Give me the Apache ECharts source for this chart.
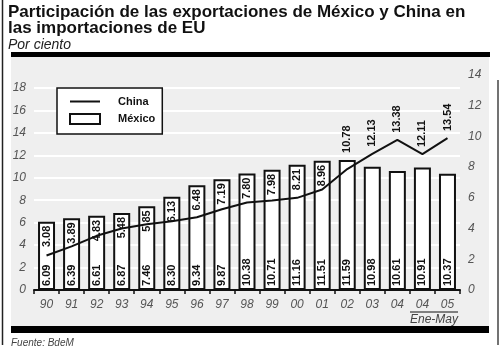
<!DOCTYPE html>
<html>
<head>
<meta charset="utf-8">
<script src="https://cdn.jsdelivr.net/npm/echarts@6/dist/echarts.min.js"></script>
<style>
  html, body { margin: 0; padding: 0; background: #fff; }
  #chart { width: 500px; height: 350px; }
</style>
</head>
<body>
<div id="chart"></div>
<script>
// Years on the category axis (last two are January-May figures)
const years = ['90', '91', '92', '93', '94', '95', '96', '97', '98', '99', '00', '01', '02', '03', '04', '04', '05'];
// Share of US imports, per cent
const mexico = [6.09, 6.39, 6.61, 6.87, 7.46, 8.30, 9.34, 9.87, 10.38, 10.71, 11.16, 11.51, 11.59, 10.98, 10.61, 10.91, 10.37];
const china = [3.08, 3.89, 4.83, 5.48, 5.85, 6.13, 6.48, 7.19, 7.80, 7.98, 8.21, 8.96, 10.78, 12.13, 13.38, 12.11, 13.54];
// Tick values of the two vertical scales
const leftTicks = { min: 0, max: 18, step: 2 };
const rightTicks = { min: 0, max: 14, step: 2 };

const FONT = '"Liberation Sans", Arial, Helvetica, sans-serif';
const chart = echarts.init(document.getElementById('chart'), null, { renderer: 'canvas' });

const axisLabelStyle = { fontFamily: FONT, fontStyle: 'italic', fontSize: 12, color: '#555' };

chart.setOption({
  animation: false,
  backgroundColor: '#fff',
  title: {
    text: 'Participación de las exportaciones de México y China en\nlas importaciones de EU',
    subtext: 'Por ciento',
    left: 8, top: 4, padding: 0, itemGap: 1,
    textStyle: { fontFamily: FONT, fontWeight: 'bold', fontSize: 17, lineHeight: 16, color: '#111' },
    subtextStyle: { fontFamily: FONT, fontStyle: 'italic', fontSize: 14, lineHeight: 14, color: '#222' }
  },
  legend: {
    data: [
      // plain line sample, no marker dot
      { name: 'China', itemStyle: { opacity: 0 } },
      { name: 'México', icon: 'rect', itemStyle: { color: '#fff', borderColor: '#111', borderWidth: 2 } }
    ],
    orient: 'vertical',
    left: 57, top: 88,
    padding: [8, 7, 9, 12],
    itemWidth: 30, itemHeight: 10, itemGap: 6,
    backgroundColor: '#fff',
    borderColor: '#111', borderWidth: 1.5,
    textStyle: { fontFamily: FONT, fontWeight: 'bold', fontSize: 11, color: '#111', padding: [0, 0, 0, 13] }
  },
  grid: [
    { left: 34, right: 40, top: 88, bottom: 60 },
    { left: 34, right: 40, top: 75, bottom: 60 }
  ],
  xAxis: [
    {
      type: 'category', data: years, gridIndex: 0,
      axisLine: { lineStyle: { color: '#111', width: 2 } },
      axisTick: { show: true, length: 4, lineStyle: { color: '#111', width: 1.5 } },
      axisLabel: Object.assign({ margin: 9 }, axisLabelStyle)
    },
    { type: 'category', data: years, gridIndex: 1, show: false }
  ],
  yAxis: [
    {
      type: 'value', gridIndex: 0,
      min: leftTicks.min, max: leftTicks.max, interval: leftTicks.step,
      axisLine: { show: false }, axisTick: { show: false },
      axisLabel: Object.assign({ margin: 8 }, axisLabelStyle),
      splitLine: { show: true, lineStyle: { color: '#ffffff', width: 2 } }
    },
    {
      type: 'value', gridIndex: 1, position: 'right',
      min: rightTicks.min, max: rightTicks.max, interval: rightTicks.step,
      axisLine: { show: false }, axisTick: { show: false },
      axisLabel: Object.assign({ margin: 8 }, axisLabelStyle),
      splitLine: { show: false }
    }
  ],
  graphic: [
    // left frame rule
    { type: 'line', z: -20, shape: { x1: 2.5, y1: 0, x2: 2.5, y2: 345 }, style: { stroke: '#222', lineWidth: 1.5 } },
    // right frame rule
    { type: 'line', z: -20, shape: { x1: 498, y1: 80, x2: 498, y2: 345 }, style: { stroke: '#444', lineWidth: 1.5 } },
    // panel
    { type: 'rect', z: -20, shape: { x: 11, y: 56, width: 478, height: 271 }, style: { fill: '#efefef' } },
    // top and bottom bands
    { type: 'rect', z: -10, shape: { x: 11, y: 52, width: 479, height: 5 }, style: { fill: '#000' } },
    { type: 'rect', z: -10, shape: { x: 11, y: 326, width: 478, height: 7 }, style: { fill: '#000' } },
    // January-May bracket under the last two years
    { type: 'line', shape: { x1: 410, y1: 312, x2: 458, y2: 312 }, style: { stroke: '#111', lineWidth: 1 } },
    { type: 'text', x: 434, y: 320, style: { text: 'Ene-May', font: 'italic 12px ' + FONT, fill: '#444', align: 'center', verticalAlign: 'middle' } },
    // source
    { type: 'text', x: 11, y: 343, style: { text: 'Fuente: BdeM', font: 'italic 10px ' + FONT, fill: '#444', align: 'left', verticalAlign: 'middle' } }
  ],
  series: [
    {
      name: 'México', type: 'bar', xAxisIndex: 0, yAxisIndex: 0,
      data: mexico, barWidth: 17, z: 2,
      itemStyle: { color: '#fff', borderColor: '#111', borderWidth: 2 },
      label: {
        show: true, position: 'insideBottom', rotate: 90, distance: 4,
        align: 'left', verticalAlign: 'middle',
        fontFamily: FONT, fontWeight: 'bold', fontSize: 11, color: '#111',
        formatter: p => p.value.toFixed(2)
      }
    },
    {
      name: 'China', type: 'line', xAxisIndex: 0, yAxisIndex: 0,
      data: china, symbol: 'none', z: 4,
      lineStyle: { color: '#111', width: 2 }, itemStyle: { color: '#111' }
    },
    {
      // China values written vertically: inside the bar top when there is room, otherwise above
      name: 'China labels', type: 'custom', xAxisIndex: 0, yAxisIndex: 0, z: 5,
      data: china.map((v, i) => [i, v, mexico[i]]),
      renderItem: function (params, api) {
        const pt = api.coord([api.value(0), api.value(1)]);
        const bar = api.coord([api.value(0), api.value(2)]);
        const inside = pt[1] - bar[1] > 15;
        const y = inside ? bar[1] + 4 : Math.min(pt[1], bar[1]) - 7;
        return {
          type: 'text', x: pt[0], y: y, rotation: Math.PI / 2,
          style: {
            text: api.value(1).toFixed(2),
            font: 'bold 11px ' + FONT, fill: '#111',
            align: inside ? 'right' : 'left', verticalAlign: 'middle'
          }
        };
      }
    }
  ]
});
</script>
</body>
</html>
